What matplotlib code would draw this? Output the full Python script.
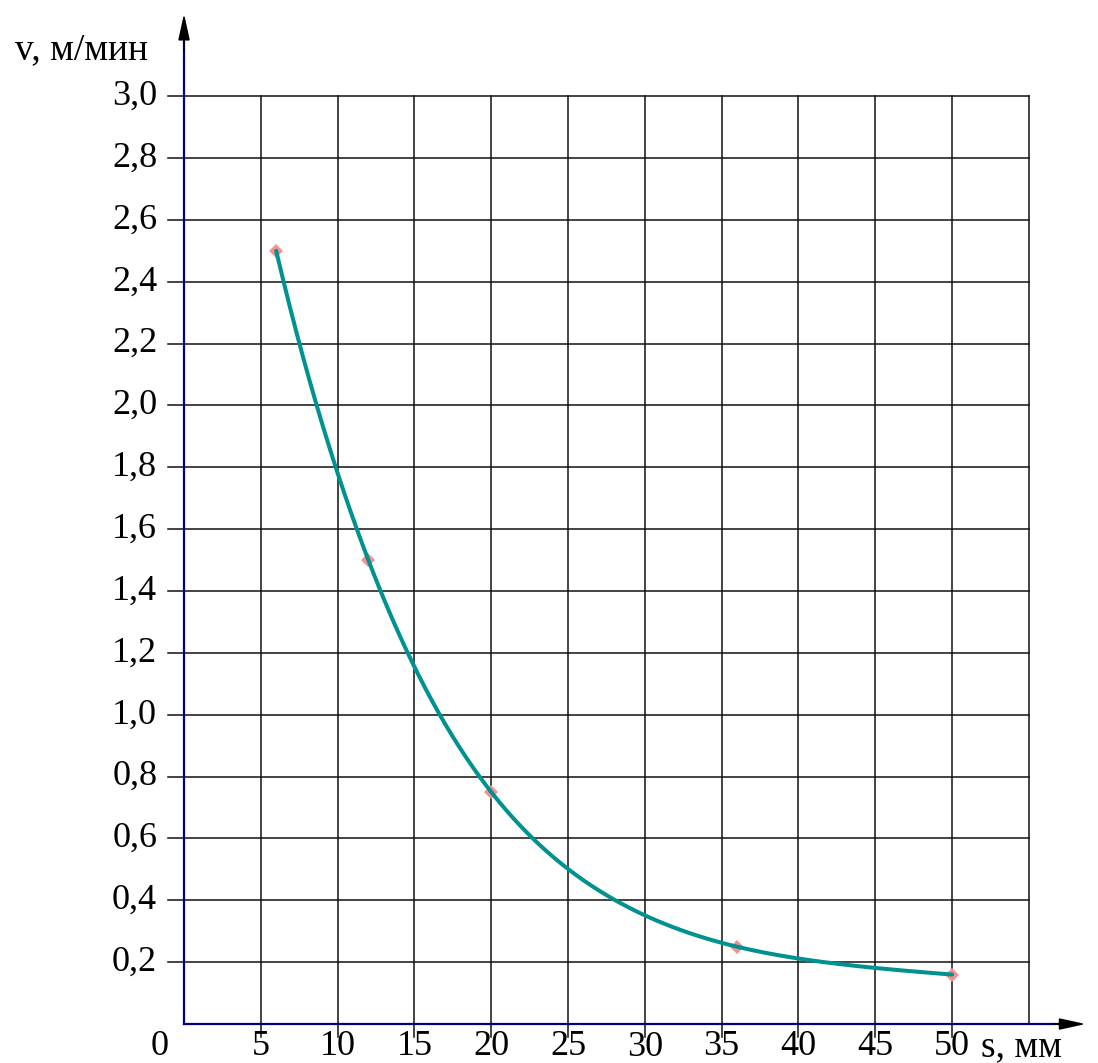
import numpy as np
import matplotlib
matplotlib.use("Agg")
import matplotlib.pyplot as plt

plt.rcParams['font.family'] = ['Liberation Serif', 'DejaVu Serif']

s_mm = [6, 12, 20, 36, 50]
v_m_min = [2.5, 1.5, 0.75, 0.25, 0.16]
x_ticks = [5, 10, 15, 20, 25, 30, 35, 40, 45, 50]
y_ticks = [0.2, 0.4, 0.6, 0.8, 1.0, 1.2, 1.4, 1.6, 1.8, 2.0, 2.2, 2.4, 2.6, 2.8, 3.0]
y_labels = ["0,2", "0,4", "0,6", "0,8", "1,0", "1,2", "1,4", "1,6", "1,8", "2,0",
            "2,2", "2,4", "2,6", "2,8", "3,0"]


def natural_spline(x, y, xs):
    # natural cubic spline, small tridiagonal system solved directly
    x = np.asarray(x, float); y = np.asarray(y, float)
    n = len(x); h = np.diff(x)
    A = np.zeros((n, n)); b = np.zeros(n)
    A[0, 0] = A[-1, -1] = 1
    for i in range(1, n - 1):
        A[i, i - 1] = h[i - 1]; A[i, i] = 2 * (h[i - 1] + h[i]); A[i, i + 1] = h[i]
        b[i] = 3 * ((y[i + 1] - y[i]) / h[i] - (y[i] - y[i - 1]) / h[i - 1])
    c = np.linalg.solve(A, b)
    idx = np.clip(np.searchsorted(x, xs) - 1, 0, n - 2)
    dx = xs - x[idx]
    bb = (y[idx + 1] - y[idx]) / h[idx] - h[idx] * (2 * c[idx] + c[idx + 1]) / 3
    d = (c[idx + 1] - c[idx]) / (3 * h[idx])
    return y[idx] + bb * dx + c[idx] * dx ** 2 + d * dx ** 3


fig = plt.figure(figsize=(10.98, 10.63), dpi=100)
ax = fig.add_axes([0, 0, 1, 1])
ax.set_xlim(-11.98, 59.5)
ax.set_ylim(-0.126, 3.311)
ax.axis('off')

grid_c = '#111111'
for x in x_ticks:
    ax.plot([x, x], [-0.042, 3.0], color=grid_c, lw=1.1, zorder=1)
ax.plot([55, 55], [0, 3.0], color=grid_c, lw=1.1, zorder=1)
for y in y_ticks:
    ax.plot([-1.05, 55], [y, y], color=grid_c, lw=1.1, zorder=1)

# axes
ax.plot([0, 0], [0, 3.2], color='#000080', lw=1.6, zorder=3)
ax.plot([0, 57.8], [0, 0], color='#000080', lw=1.6, zorder=3)
ax.annotate('', xy=(0, 3.267), xytext=(0, 3.15),
            arrowprops=dict(arrowstyle='-|>,head_length=1.6,head_width=0.35',
                            color='black', lw=1.2, shrinkA=0, shrinkB=0), zorder=4)
ax.annotate('', xy=(58.7, 0), xytext=(56.5, 0),
            arrowprops=dict(arrowstyle='-|>,head_length=1.6,head_width=0.35',
                            color='black', lw=1.2, shrinkA=0, shrinkB=0), zorder=4)

# curve in log space
xs = np.linspace(s_mm[0], s_mm[-1], 400)
ys = np.exp(natural_spline(s_mm, np.log(v_m_min), xs))
ax.plot(xs, ys, color='#009191', lw=2.9, zorder=5, solid_capstyle='round')
ax.plot(s_mm, v_m_min, linestyle='none', marker='D', ms=7, color='#f49090',
        markeredgewidth=0, zorder=4)

fs = 26
for y, lab in zip(y_ticks, y_labels):
    ax.text(-1.75, y, lab, fontsize=fs, ha='right', va='center')
for x in x_ticks:
    yy = -0.077 if x == 30 else -0.073
    ax.text(x, yy, str(x), fontsize=fs, ha='center', va='center')
ax.text(-1.56, -0.073, '0', fontsize=fs, ha='center', va='center')
ax.text(-6.7, 3.148, 'v, м/мин', fontsize=27, ha='center', va='center')
ax.text(51.9, -0.073, 's, мм', fontsize=27, ha='left', va='center')

fig.savefig('out.png', dpi=100)
